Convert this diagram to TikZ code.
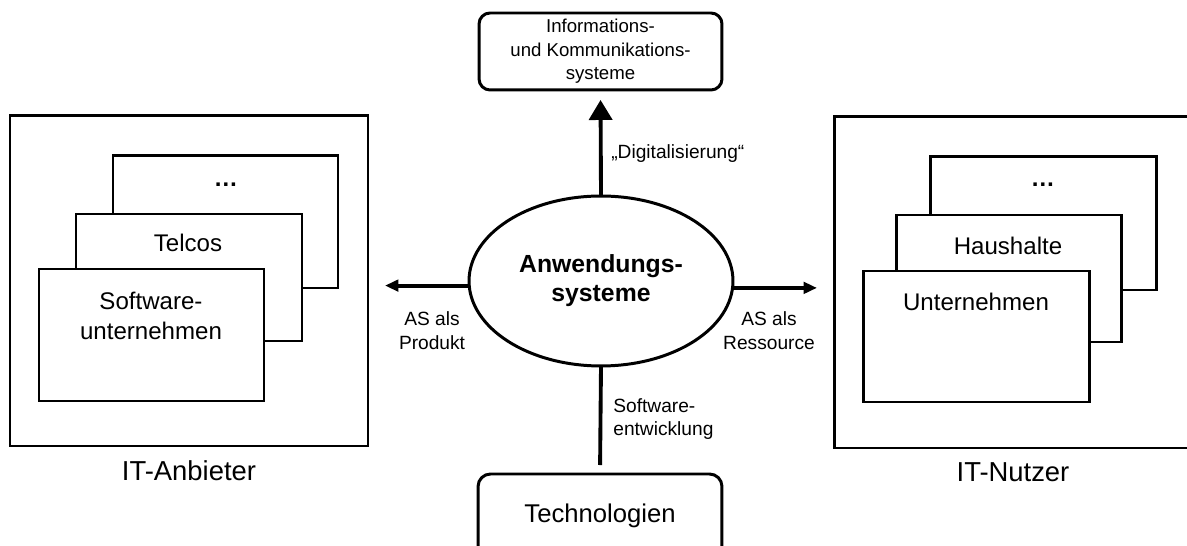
\documentclass[tikz,border=0pt]{standalone}
\usepackage{fontspec}
\setmainfont{Liberation Sans}
\usetikzlibrary{arrows.meta,shapes.geometric,fit}
\tikzset{
  box/.style={draw=black, fill=white, line width=1.7pt, inner sep=0pt, outer sep=0pt, rectangle},
  rbox/.style={draw=black, fill=white, line width=1.7pt, rounded corners=0.22cm, inner sep=0pt, outer sep=0pt, align=center},
  biglabel/.style={font=\fontsize{15.6}{18}\selectfont, inner sep=0pt},
  boxlabel/.style={font=\fontsize{13.7}{17}\selectfont, inner sep=0pt, align=center},
  small/.style={font=\fontsize{10.9}{13.5}\selectfont, inner sep=0pt},
  conn/.style={line width=2.2pt},
  harrow/.style={conn, -{Triangle[length=0.27cm,width=0.23cm]}},
  varrow/.style={conn, -{Triangle[length=0.4cm,width=0.46cm]}},
}
\begin{document}
\begin{tikzpicture}[x=0.02cm,y=-0.02cm]
\useasboundingbox (0,0) rectangle (1187,546);

% left group
\node[box, fit={(10,116) (368,446)}] (lout) {};
\node[box, fit={(113,156) (338,288)}] (lback) {};
\node[box, fit={(76,214) (302,341)}] (lmid) {};
\node[box, fit={(39,269) (264,401)}] (lfront) {};
\node[boxlabel, font=\fontsize{13.7}{17}\bfseries] (ldots) at (226,185) {…};
\node[boxlabel] (ltel) at (188,243) {Telcos};
\node[boxlabel] (lsw) at (151,316) {Software-\\unternehmen};
\node[biglabel] (lname) at (189,471) {IT-Anbieter};

% right group
\node[box, fit={(834,117) (1200,448)}] (rout) {};
\node[box, fit={(930,157) (1156,290)}] (rback) {};
\node[box, fit={(896,215) (1121,342)}] (rmid) {};
\node[box, fit={(863,271) (1089,402)}] (rfront) {};
\node[boxlabel, font=\fontsize{13.7}{17}\bfseries] (rdots) at (1043,185) {…};
\node[boxlabel] (rhh) at (1008,246) {Haushalte};
\node[boxlabel] (run) at (976,302) {Unternehmen};
\node[biglabel] (rname) at (1013,472) {IT-Nutzer};

% center
\node[ellipse, draw=black, line width=1.7pt, inner sep=0pt, outer sep=0pt,
      minimum width=5.28cm, minimum height=3.4cm, align=center,
      font=\fontsize{14.1}{16.6}\selectfont\bfseries] (ell) at (601,281) {Anwendungs-\\systeme};

\node[rbox, minimum width=4.86cm, minimum height=1.54cm,
      font=\fontsize{10.6}{13.3}\selectfont] (iks) at (600.5,51.5)
      {Informations-\\und Kommunikations-\\systeme};

\node[rbox, rounded corners=0.25cm, minimum width=4.88cm, minimum height=1.68cm,
      font=\fontsize{14.6}{17}\selectfont] (tech) at (600,516) {Technologien};

% connectors
\draw[varrow, shorten >=0.2cm] (ell.north) -- (iks.south);
\draw[harrow, shorten >=0.34cm] (ell.182.5) -- (ell.182.5 -| lout.east);
\draw[harrow, shorten >=0.34cm] (ell.357.5) -- (ell.357.5 -| rout.west);
\draw[conn, shorten >=0.18cm] (ell.south) -- (tech.north);

% connector labels
\node[small, anchor=west] (digi) at (611,154) {„Digitalisierung“};
\node[small, align=center] (prod) at (432,331) {AS als\\Produkt};
\node[small, align=center] (ress) at (769,331) {AS als\\Ressource};
\node[small, align=left, anchor=west] (swe) at (613,419) {Software-\\entwicklung};
\end{tikzpicture}
\end{document}
